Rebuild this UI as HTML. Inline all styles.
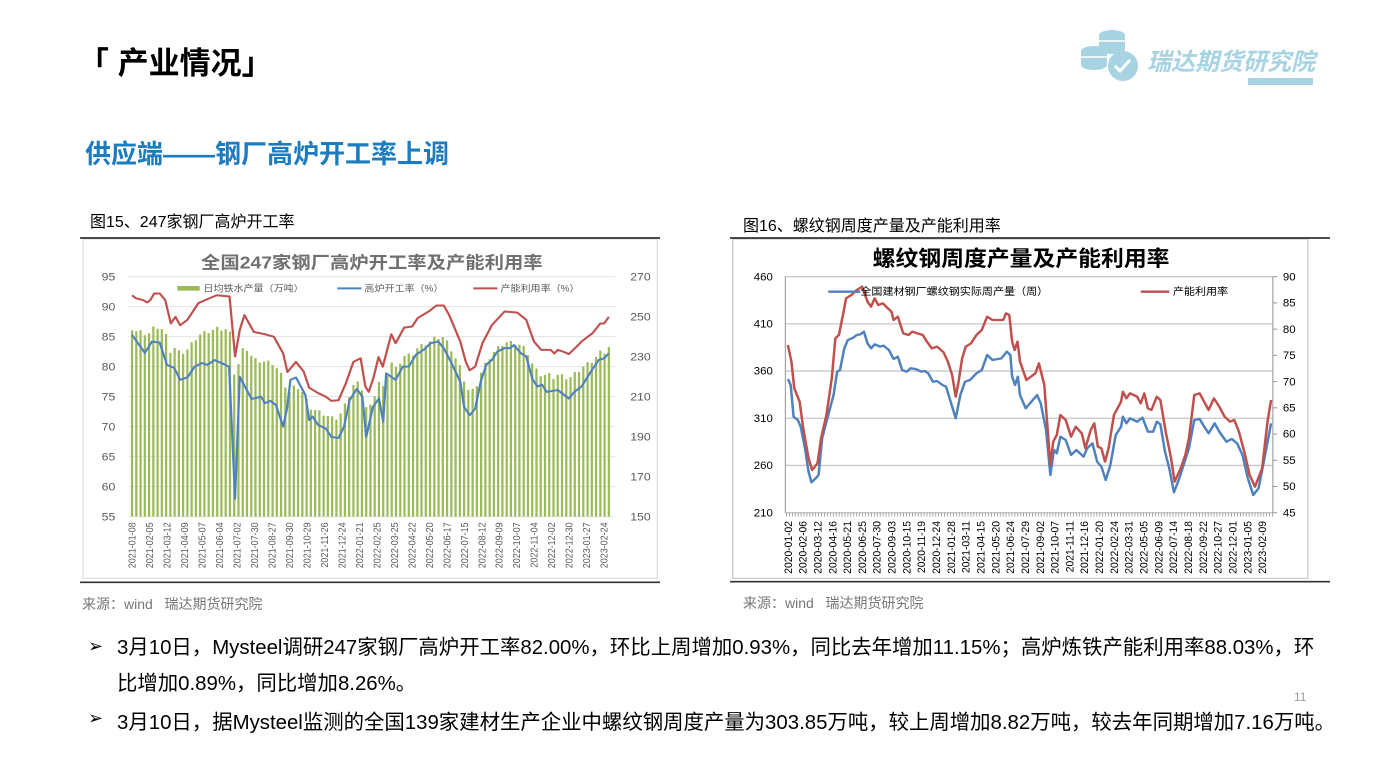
<!DOCTYPE html>
<html><head><meta charset="utf-8"><style>
body{margin:0;width:1387px;height:780px;background:#fff;position:relative;overflow:hidden;font-family:"Liberation Sans","Noto Sans CJK SC",sans-serif;color:#000}
.a{position:absolute;white-space:nowrap}
</style></head><body>
<div class="a" style="left:78px;top:38px;font-size:31px;font-weight:bold">「 产业情况」</div>
<svg class="a" style="left:1075px;top:28px" width="250" height="62">
<g fill="#a7d3e2"><ellipse cx="37" cy="7" rx="13" ry="5"/><rect x="24" y="7" width="26" height="14"/><ellipse cx="37" cy="21" rx="13" ry="5"/>
<ellipse cx="19" cy="23" rx="13" ry="5"/><rect x="6" y="23" width="26" height="14"/><ellipse cx="19" cy="37" rx="13" ry="5"/>
<circle cx="48" cy="38" r="15"/></g>
<g stroke="#fff" stroke-width="1.5"><line x1="24" y1="13" x2="50" y2="13"/><line x1="6" y1="29" x2="32" y2="29"/></g>
<path d="M40 38 l5 5 l10 -11" stroke="#fff" stroke-width="3" fill="none"/>
<rect x="173" y="50" width="65" height="7" fill="#a7d3e2"/>
<text x="72" y="42" font-size="24" font-weight="bold" font-style="italic" fill="#a7d3e2" font-family="Liberation Sans,Noto Sans CJK SC,sans-serif">瑞达期货研究院</text>
</svg>
<div class="a" style="left:85px;top:134px;font-size:26px;font-weight:bold;color:#1c7cc0">供应端——钢厂高炉开工率上调</div>
<div class="a" style="left:90px;top:208px;font-size:16px">图15、247家钢厂高炉开工率</div>
<div class="a" style="left:743px;top:212px;font-size:16px">图16、螺纹钢周度产量及产能利用率</div>
<div class="a" style="left:82px;top:594px;font-size:14px;color:#777">来源：wind&nbsp;&nbsp;&nbsp;瑞达期货研究院</div>
<div class="a" style="left:743px;top:593px;font-size:14px;color:#777">来源：wind&nbsp;&nbsp;&nbsp;瑞达期货研究院</div>
<div class="a" style="left:88px;top:636px;font-size:18px">➢</div>
<div class="a" style="left:117px;top:630px;font-size:20.4px;line-height:36px">3月10日，Mysteel调研247家钢厂高炉开工率82.00%，环比上周增加0.93%，同比去年增加11.15%；高炉炼铁产能利用率88.03%，环<br>比增加0.89%，同比增加8.26%。</div>
<div class="a" style="left:1294px;top:690px;font-size:12px;color:#999">11</div>
<div class="a" style="left:88px;top:708px;font-size:18px">➢</div>
<div class="a" style="left:117px;top:705px;font-size:20.4px">3月10日，据Mysteel监测的全国139家建材生产企业中螺纹钢周度产量为303.85万吨，较上周增加8.82万吨，较去年同期增加7.16万吨。</div>

<svg id="L" class="a" style="left:80px;top:235px" width="580" height="350" viewBox="0 0 1560 1050" preserveAspectRatio="none"></svg>
<svg id="R" class="a" style="left:730px;top:235px" width="600" height="350" viewBox="0 0 1680 1050" preserveAspectRatio="none"></svg>
<script>
const NS="http://www.w3.org/2000/svg";
function el(s,t,a,txt){const e=document.createElementNS(NS,t);for(const k in a)e.setAttribute(k,a[k]);if(txt!=null)e.textContent=txt;s.appendChild(e);return e;}
const F="Liberation Sans,Noto Sans CJK SC,sans-serif";
const L=document.getElementById('L');
el(L,'rect',{x:8,y:12,width:1545,height:1018,fill:'#fff',stroke:'#d9d9d9','stroke-width':3});
el(L,'line',{x1:0,y1:9,x2:1560,y2:9,stroke:'#333','stroke-width':5});
el(L,'line',{x1:0,y1:1042,x2:1560,y2:1042,stroke:'#333','stroke-width':5});
for(let k=0;k<=8;k++){const y=125+90*k;el(L,'line',{x1:130,y1:y,x2:1440,y2:y,stroke:'#e3e3e3','stroke-width':3});
el(L,'text',{x:95,y:y+12,'font-size':33,fill:'#595959','text-anchor':'end','font-family':F},95-5*k);}
for(let k=0;k<=6;k++){const y=125+120*k;el(L,'text',{x:1535,y:y+12,'font-size':33,fill:'#595959','text-anchor':'end','font-family':F},270-20*k);}
el(L,'text',{x:785,y:100,'font-size':52,fill:'#707070','text-anchor':'middle','font-family':F,'font-weight':'bold'},'全国247家钢厂高炉开工率及产能利用率');
const red=[[0,91.9],[0.9,91.4],[2.6,91.1],[3.5,90.7],[4.3,91.1],[5.2,92.2],[6.5,92.2],[7.8,91.1],[9.1,87.2],[10.2,88.3],[11.3,86.9],[13,87.8],[15.6,90.6],[18.2,91.4],[19.9,91.9],[22.9,91.7],[24.2,81.7],[25.3,86.1],[26.4,88.6],[28.6,85.8],[31.2,85.4],[33.3,85],[35.5,82.2],[36.5,79.1],[38.5,80.8],[40.3,79.2],[41.6,76.5],[43.7,75.6],[45.5,75],[46.8,74.3],[48.5,74.4],[50.2,77.2],[52,80.8],[53.7,81.4],[54.8,76.7],[55.6,75.8],[56.7,78.1],[57.9,81.6],[58.9,80],[60.9,85.4],[61.9,83.9],[63.9,86.5],[65.8,86.7],[67.1,88.1],[69.7,89.2],[71.5,90.2],[73.2,90.2],[74.5,88.6],[77.1,84.2],[78.4,80.8],[79.3,79.4],[80.6,80],[82.3,83.9],[84.5,86.9],[87.5,89.2],[90.5,89],[92.6,87.8],[94.4,84.2],[96.1,82.8],[98.3,82.8],[99.2,82.2],[100,82.8],[101.3,82.5],[102.6,82.1],[104.4,83.3],[105.6,84.2],[108.2,85.6],[110,87.2],[110.9,87.2],[112,88.3]];
const blue=[[0,85.3],[3,82.3],[4.7,84.2],[6.5,84],[8.2,80.3],[9.9,79.8],[11.3,77.8],[13,78.2],[14.7,80],[16.4,80.6],[17.7,80.3],[19.4,81.1],[21,80.6],[22.8,80],[24.2,58],[25.3,78.3],[28.1,74.6],[30.3,75],[31.2,73.9],[32.5,74.3],[33.8,73.6],[35.5,70],[36.4,73],[37.2,77.8],[38.5,78.2],[40.7,75.3],[41.6,71.1],[42.4,71.7],[43.7,70.3],[45.5,69.7],[46.8,68.3],[48.5,68.1],[49.8,70],[51.1,74.4],[52.8,76.3],[54.1,75],[55,68.3],[56.6,73.3],[58,74.7],[59,70.8],[59.7,78.9],[61.9,77.8],[63.6,80],[65,80],[66.7,82],[68.5,82.8],[70.1,83.9],[71.9,84.2],[73.2,83.1],[74.9,80.8],[77.1,77.5],[78,73.3],[79.3,71.9],[80.6,73],[81.9,77.5],[83.2,80.3],[84.5,81.1],[85.8,82.5],[87.5,83.1],[88.8,83.1],[89.7,83.6],[91.4,82.2],[92.6,81.7],[94,78],[95.2,76.7],[96.3,77],[97.4,75.8],[100,76.1],[102.6,74.7],[103.9,75.8],[105.6,76.7],[107.8,79.2],[109.6,81.1],[110.9,81.4],[112,82.2]];
const lx=w=>140+w*11.45, ly=v=>125+(95-v)*18;
function interp(d,w){for(let i=1;i<d.length;i++)if(d[i][0]>=w){const a=d[i-1],b=d[i];return a[1]+(b[1]-a[1])*(w-a[0])/(b[0]-a[0]);}return d[d.length-1][1];}
let bars='';for(let w=0;w<=112;w++){const v=55+(interp(red,w)-55)*0.85+(w%3-1)*0.3;const y=ly(v);bars+=`M${lx(w)-3},845V${y}h6V845z`;}
el(L,'path',{d:bars,fill:'#9bbb59'});
el(L,'polyline',{points:red.map(p=>lx(p[0])+','+ly(p[1])).join(' '),fill:'none',stroke:'#c0504d','stroke-width':6,'stroke-linejoin':'round'});
el(L,'polyline',{points:blue.map(p=>lx(p[0])+','+ly(p[1])).join(' '),fill:'none',stroke:'#4f81bd','stroke-width':6,'stroke-linejoin':'round'});
el(L,'rect',{x:262,y:153,width:60,height:14,fill:'#9bbb59'});
el(L,'text',{x:332,y:170,'font-size':27,fill:'#595959','font-family':F},'日均铁水产量（万吨）');
el(L,'line',{x1:692,y1:160,x2:757,y2:160,stroke:'#4f81bd','stroke-width':6});
el(L,'text',{x:765,y:170,'font-size':27,fill:'#595959','font-family':F},'高炉开工率（%）');
el(L,'line',{x1:1058,y1:160,x2:1123,y2:160,stroke:'#c0504d','stroke-width':6});
el(L,'text',{x:1131,y:170,'font-size':27,fill:'#595959','font-family':F},'产能利用率（%）');
const ld=['2021-01-08','2021-02-05','2021-03-12','2021-04-09','2021-05-07','2021-06-04','2021-07-02','2021-07-30','2021-08-27','2021-09-30','2021-10-29','2021-11-26','2021-12-24','2022-01-21','2022-02-25','2022-03-25','2022-04-22','2022-05-20','2022-06-17','2022-07-15','2022-08-12','2022-09-09','2022-10-07','2022-11-04','2022-12-02','2022-12-30','2023-01-27','2023-02-24'];
ld.forEach((t,i)=>{const x=140+i*47.05+9;el(L,'text',{transform:`translate(${x},862) rotate(-90)`,'font-size':27,fill:'#595959','text-anchor':'end','font-family':F},t);});
const R=document.getElementById('R');
el(R,'rect',{x:8,y:12,width:1610,height:1018,fill:'#fff',stroke:'#bfbfbf','stroke-width':3});
el(R,'line',{x1:0,y1:9,x2:1680,y2:9,stroke:'#333','stroke-width':5});
el(R,'line',{x1:0,y1:1040,x2:1680,y2:1040,stroke:'#333','stroke-width':5});
for(let k=0;k<6;k++){const y=125+141.6*k;el(R,'line',{x1:155,y1:y,x2:1520,y2:y,stroke:'#c8c8c8','stroke-width':4});
el(R,'text',{x:120,y:y+11,'font-size':32,fill:'#000','text-anchor':'end','font-family':F},460-50*k);}
for(let k=0;k<10;k++){const y=125+78.7*k;el(R,'line',{x1:1520,y1:y,x2:1532,y2:y,stroke:'#999','stroke-width':3});
el(R,'text',{x:1548,y:y+11,'font-size':32,fill:'#000','font-family':F},90-5*k);}
el(R,'line',{x1:155,y1:125,x2:155,y2:833,stroke:'#999','stroke-width':3});
el(R,'line',{x1:1520,y1:125,x2:1520,y2:833,stroke:'#999','stroke-width':3});
let tk='';for(let x=158;x<1520;x+=8.2)tk+=`M${x},833v12`;el(R,'path',{d:tk,stroke:'#888','stroke-width':2});
el(R,'text',{x:815,y:93,'font-size':64,fill:'#000','text-anchor':'middle','font-family':F,'font-weight':'bold'},'螺纹钢周度产量及产能利用率');
const rb=[[162,432],[170,450],[178,545],[190,555],[198,575],[210,640],[220,710],[228,742],[240,730],[248,720],[258,610],[270,560],[290,480],[300,410],[308,405],[320,340],[330,315],[345,308],[355,300],[365,298],[375,290],[385,325],[395,340],[405,328],[420,335],[430,332],[445,345],[458,372],[470,365],[482,405],[495,410],[505,400],[520,402],[535,410],[545,408],[555,415],[568,440],[580,438],[595,450],[605,455],[632,550],[645,480],[658,440],[672,435],[690,415],[705,405],[720,360],[735,375],[760,370],[775,350],[785,360],[790,425],[798,450],[806,425],[812,480],[828,520],[860,480],[870,505],[885,585],[897,720],[907,645],[915,655],[925,605],[940,615],[955,660],[970,645],[990,665],[1000,640],[1015,625],[1028,680],[1040,695],[1052,735],[1065,690],[1080,600],[1095,575],[1100,545],[1110,565],[1120,550],[1140,560],[1155,548],[1170,590],[1185,590],[1195,560],[1205,568],[1218,650],[1230,700],[1243,772],[1258,730],[1270,690],[1285,640],[1300,555],[1315,552],[1325,570],[1340,595],[1357,565],[1370,590],[1390,620],[1405,612],[1420,625],[1435,660],[1450,730],[1465,780],[1480,760],[1500,650],[1515,565]];
const rr=[[162,330],[172,380],[180,460],[195,500],[205,580],[220,670],[230,705],[245,685],[255,610],[270,540],[285,430],[295,310],[305,300],[318,230],[325,190],[340,180],[355,165],[370,155],[385,200],[395,215],[405,190],[415,210],[428,205],[440,218],[452,230],[458,255],[470,245],[485,295],[500,300],[510,290],[525,295],[540,300],[550,318],[565,340],[580,335],[598,352],[610,380],[622,420],[632,485],[640,440],[650,370],[660,335],[675,325],[690,300],[705,285],[720,245],[735,255],[765,255],[773,235],[782,240],[790,320],[797,345],[805,320],[812,380],[830,435],[855,415],[865,385],[880,450],[897,690],[905,620],[915,600],[925,540],[940,555],[955,605],[968,575],[985,595],[995,640],[1010,585],[1020,565],[1030,635],[1040,640],[1050,680],[1060,640],[1075,540],[1095,500],[1100,470],[1110,490],[1120,475],[1140,485],[1150,505],[1160,475],[1170,520],[1180,525],[1195,485],[1205,495],[1220,590],[1235,670],[1245,740],[1262,700],[1275,660],[1285,610],[1300,480],[1315,475],[1325,495],[1340,525],[1355,490],[1370,515],[1385,545],[1400,560],[1412,555],[1425,590],[1440,650],[1455,720],[1470,755],[1490,700],[1505,560],[1515,495]];
el(R,'polyline',{points:rb.map(p=>p[0]+','+p[1]).join(' '),fill:'none',stroke:'#4f81bd','stroke-width':7,'stroke-linejoin':'round'});
el(R,'polyline',{points:rr.map(p=>p[0]+','+p[1]).join(' '),fill:'none',stroke:'#c0504d','stroke-width':7,'stroke-linejoin':'round'});
el(R,'line',{x1:275,y1:170,x2:365,y2:170,stroke:'#4f81bd','stroke-width':7});
el(R,'text',{x:365,y:180,'font-size':31,fill:'#000','font-family':F},'全国建材钢厂螺纹钢实际周产量（周）');
el(R,'line',{x1:1150,y1:170,x2:1230,y2:170,stroke:'#c0504d','stroke-width':7});
el(R,'text',{x:1240,y:180,'font-size':31,fill:'#000','font-family':F},'产能利用率');
const rd=['2020-01-02','2020-02-06','2020-03-12','2020-04-16','2020-05-21','2020-06-25','2020-07-30','2020-09-03','2020-10-15','2020-11-19','2020-12-24','2021-01-28','2021-03-11','2021-04-15','2021-05-20','2021-06-24','2021-07-29','2021-09-02','2021-10-07','2021-11-11','2021-12-16','2022-01-20','2022-02-24','2022-03-31','2022-05-05','2022-06-09','2022-07-14','2022-08-18','2022-09-22','2022-10-27','2022-12-01','2023-01-05','2023-02-09'];
rd.forEach((t,i)=>{const x=162+i*41.5+11;el(R,'text',{transform:`translate(${x},858) rotate(-90)`,'font-size':31,fill:'#000','text-anchor':'end','font-family':F},t);});
</script>
</body></html>
